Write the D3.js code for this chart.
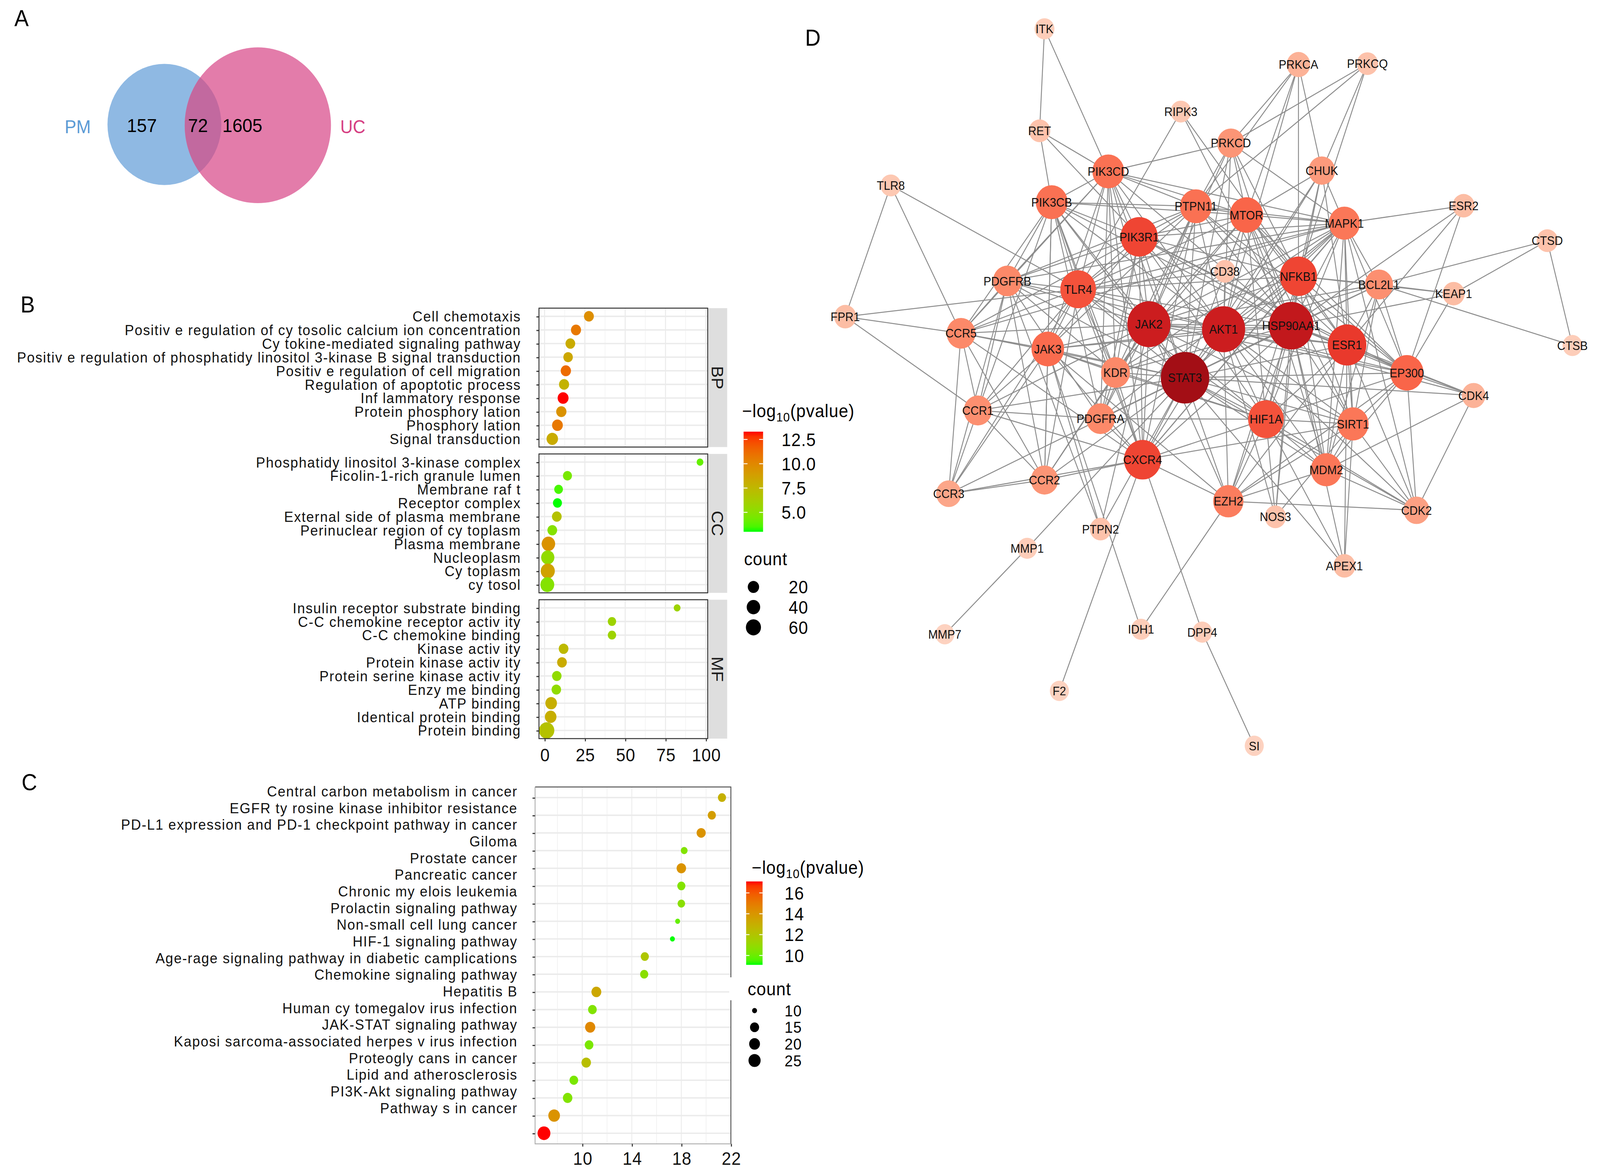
<!DOCTYPE html>
<html>
<head>
<meta charset="utf-8">
<script src="https://cdn.jsdelivr.net/npm/d3@7"></script>
<style>
  html, body { margin: 0; padding: 0; width: 100%; height: 100%; overflow: hidden; background: #fff; }
  #app { width: 100vw; height: 100vh; }
  svg { display: block; width: 100vw; height: 100vh; }
  text { font-family: "Liberation Sans", Arial, Helvetica, sans-serif; }
</style>
</head>
<body>
<div id="app"></div>
<script>
// ---------- A: venn
const vennSets = ['PM', 'UC']
const vennCounts = [157, 72, 1605] // PM only, shared, UC only

// ---------- B: GO enrichment (top to bottom inside each facet)
const goGroups = ['BP', 'CC', 'MF']
const goTerms = [
  ['Cell chemotaxis', 'Positiv e regulation of cy tosolic calcium ion concentration',
   'Cy tokine-mediated signaling pathway',
   'Positiv e regulation of phosphatidy linositol 3-kinase B signal transduction',
   'Positiv e regulation of cell migration', 'Regulation of apoptotic process',
   'Inf lammatory response', 'Protein phosphory lation', 'Phosphory lation', 'Signal transduction'],
  ['Phosphatidy linositol 3-kinase complex', 'Ficolin-1-rich granule lumen', 'Membrane raf t',
   'Receptor complex', 'External side of plasma membrane', 'Perinuclear region of cy toplasm',
   'Plasma membrane', 'Nucleoplasm', 'Cy toplasm', 'cy tosol'],
  ['Insulin receptor substrate binding', 'C-C chemokine receptor activ ity', 'C-C chemokine binding',
   'Kinase activ ity', 'Protein kinase activ ity', 'Protein serine kinase activ ity',
   'Enzy me binding', 'ATP binding', 'Identical protein binding', 'Protein binding'],
]
const goFold = [
  [27.5, 19.5, 16.0, 14.6, 13.2, 12.1, 11.5, 10.4, 8.0, 4.8],
  [96.4, 14.2, 8.7, 8.0, 7.6, 4.8, 2.4, 2.0, 2.0, 1.7],
  [82.2, 41.8, 41.8, 11.8, 10.8, 7.6, 7.3, 4.1, 3.8, 1.3],
]
const goLogP = [
  [9.7, 10.7, 8.2, 8.4, 11.2, 7.8, 13.3, 9.5, 10.7, 8.2],
  [4.0, 4.5, 3.5, 3.0, 6.9, 4.9, 9.5, 5.3, 8.7, 4.9],
  [5.8, 5.8, 5.8, 7.4, 8.2, 5.3, 5.3, 8.0, 8.0, 6.9],
]
const goCount = [
  [11, 12, 10, 9, 13, 12, 17, 13, 16, 21],
  [3, 7, 6, 7, 10, 10, 40, 37, 47, 45],
  [3, 5, 5, 10, 10, 9, 9, 22, 22, 64],
]
const goTicks = [0, 25, 50, 75, 100]
const goColorTicks = [5.0, 7.5, 10.0, 12.5]
const goCountTicks = [20, 40, 60]

// ---------- C: KEGG pathways (top to bottom)
const keggTerms = [
  'Central carbon metabolism in cancer', 'EGFR ty rosine kinase inhibitor resistance',
  'PD-L1 expression and PD-1 checkpoint pathway in cancer', 'Giloma', 'Prostate cancer',
  'Pancreatic cancer', 'Chronic my elois leukemia', 'Prolactin signaling pathway',
  'Non-small cell lung cancer', 'HIF-1 signaling pathway',
  'Age-rage signaling pathway in diabetic camplications', 'Chemokine signaling pathway',
  'Hepatitis B', 'Human cy tomegalov irus infection', 'JAK-STAT signaling pathway',
  'Kaposi sarcoma-associated herpes v irus infection', 'Proteogly cans in cancer',
  'Lipid and atherosclerosis', 'PI3K-Akt signaling pathway', 'Pathway s in cancer',
]
const keggX = [21.28, 20.46, 19.6, 18.23, 18.0, 18.0, 18.0, 17.7, 17.28, 15.05,
  15.0, 11.14, 10.82, 10.64, 10.55, 10.32, 9.32, 8.82, 7.73, 6.91]
const keggLogP = [12.9, 13.7, 14.1, 10.5, 14.1, 10.5, 10.7, 9.9, 9.1, 11.9,
  10.7, 13.3, 10.5, 14.5, 10.3, 12.3, 10.3, 10.5, 14.1, 17.1]
const keggCount = [13, 13, 15, 11, 16, 13, 12, 10, 10, 13,
  13, 17, 14, 18, 14, 16, 14, 16, 23, 28]
const keggTicks = [10, 14, 18, 22]
const keggColorTicks = [10, 12, 14, 16]
const keggCountTicks = [10, 15, 20, 25]

// ---------- D: PPI network (layout coords, x from panel origin)
const netGenes = ['ITK', 'RET', 'RIPK3', 'TLR8', 'PRKCA', 'PRKCQ', 'PRKCD', 'CHUK', 'PIK3CD', 'PIK3CB',
  'PTPN11', 'MTOR', 'MAPK1', 'ESR2', 'CTSD', 'PIK3R1', 'CD38', 'NFKB1', 'BCL2L1', 'PDGFRB',
  'TLR4', 'KEAP1', 'FPR1', 'JAK2', 'AKT1', 'HSP90AA1', 'CCR5', 'CTSB', 'ESR1', 'JAK3',
  'EP300', 'KDR', 'STAT3', 'CDK4', 'CCR1', 'PDGFRA', 'HIF1A', 'SIRT1', 'CXCR4', 'MDM2',
  'CCR2', 'CCR3', 'EZH2', 'CDK2', 'NOS3', 'PTPN2', 'MMP1', 'APEX1', 'IDH1', 'DPP4',
  'MMP7', 'F2', 'SI']
const netX = [238.4, 233.6, 371.3, 88.5, 486, 553.2, 420.1, 508.8, 300.6, 245.4,
  386, 435.3, 530.8, 647, 728.6, 330.7, 414.3, 486, 564.5, 202.2,
  271.2, 637.3, 44.1, 340.2, 413, 478.9, 157, 753.1, 533.4, 241.6,
  591.7, 307.6, 375.4, 656.8, 173.4, 293, 454.3, 539.2, 334, 513.1,
  238.4, 145, 417.6, 601.1, 463.5, 293, 221.5, 530.8, 332.5, 392.2,
  141.2, 252.9, 442.9]
const netY = [26.4, 119.8, 102.2, 169.8, 59.1, 58.3, 131, 156.2, 157, 185.2,
  188.9, 196.9, 204.4, 188.4, 220.4, 216.9, 248.5, 253, 260.5, 257.3,
  264.9, 268.9, 290, 296.9, 301.5, 298.3, 305.2, 316.4, 315.9, 319.6,
  341.4, 341.1, 345.9, 362.2, 375.9, 383.4, 383.9, 388.2, 421, 430.2,
  439.6, 452.1, 459, 467.3, 473.3, 484.5, 502.1, 518.2, 576.3, 578.9,
  580.8, 632.7, 683]
const netDegree = [2, 4, 3, 3, 7, 4, 12, 11, 18, 18,
  18, 20, 17, 5, 4, 25, 4, 25, 13, 14,
  23, 5, 5, 33, 33, 35, 14, 2, 27, 19,
  20, 14, 40, 7, 13, 14, 23, 17, 25, 17,
  12, 9, 16, 10, 4, 4, 2, 5, 2, 2,
  1, 1, 1]
const netLinks = [
  'ITK-RET', 'ITK-PIK3CD', 'RET-PIK3CD', 'RET-PIK3CB', 'RET-PIK3R1',
  'RIPK3-TLR4', 'RIPK3-HSP90AA1', 'RIPK3-NFKB1',
  'TLR8-FPR1', 'TLR8-CCR5', 'TLR8-TLR4', 'FPR1-TLR4', 'FPR1-CCR5', 'FPR1-CCR1',
  'PRKCA-PRKCD', 'PRKCA-MTOR', 'PRKCA-NFKB1', 'PRKCA-CHUK', 'PRKCA-AKT1', 'PRKCA-PTPN11',
  'PRKCQ-PRKCD', 'PRKCQ-CHUK', 'PRKCQ-NFKB1', 'PRKCQ-PTPN11',
  'PRKCD-PTPN11', 'PRKCD-MTOR', 'PRKCD-MAPK1', 'PRKCD-PIK3CD', 'PRKCD-NFKB1', 'PRKCD-AKT1',
  'PRKCD-STAT3', 'PRKCD-JAK2', 'PRKCD-HSP90AA1',
  'CHUK-MTOR', 'CHUK-NFKB1', 'CHUK-MAPK1', 'CHUK-AKT1', 'CHUK-HSP90AA1', 'CHUK-ESR1', 'CHUK-STAT3',
  'ESR2-MAPK1', 'ESR2-HSP90AA1', 'ESR2-ESR1', 'ESR2-EP300',
  'CTSD-BCL2L1', 'CTSD-KEAP1', 'CTSD-CTSB', 'CTSB-BCL2L1',
  'KEAP1-BCL2L1', 'KEAP1-NFKB1', 'KEAP1-HSP90AA1', 'KEAP1-EP300',
  'CDK4-EP300', 'CDK4-ESR1', 'CDK4-MDM2', 'CDK4-CDK2', 'CDK4-HSP90AA1', 'CDK4-AKT1', 'CDK4-STAT3',
  'CDK2-EP300', 'CDK2-MDM2', 'CDK2-SIRT1', 'CDK2-ESR1', 'CDK2-EZH2', 'CDK2-HIF1A', 'CDK2-AKT1', 'CDK2-STAT3',
  'APEX1-HIF1A', 'APEX1-SIRT1', 'APEX1-ESR1', 'APEX1-HSP90AA1', 'APEX1-STAT3',
  'NOS3-AKT1', 'NOS3-HSP90AA1', 'NOS3-HIF1A', 'NOS3-SIRT1',
  'SI-DPP4', 'DPP4-CXCR4', 'IDH1-EZH2', 'IDH1-JAK3', 'F2-CXCR4', 'MMP7-MMP1', 'MMP1-STAT3',
  'PTPN2-JAK3', 'PTPN2-STAT3', 'PTPN2-JAK2', 'PTPN2-PDGFRB',
  'CD38-AKT1', 'CD38-MTOR', 'CD38-JAK2', 'CD38-TLR4',
  'CCR3-CCR5', 'CCR3-CCR1', 'CCR3-CCR2', 'CCR3-CXCR4', 'CCR3-JAK3', 'CCR3-TLR4', 'CCR3-STAT3', 'CCR3-PDGFRB',
  'CCR2-CCR5', 'CCR2-CCR1', 'CCR2-CXCR4', 'CCR2-JAK3', 'CCR2-JAK2', 'CCR2-STAT3', 'CCR2-PIK3CB',
  'CCR2-TLR4', 'CCR2-KDR', 'CCR2-PDGFRB',
  'CCR1-CCR5', 'CCR1-CXCR4', 'CCR1-JAK3', 'CCR1-JAK2', 'CCR1-STAT3', 'CCR1-PIK3CB', 'CCR1-TLR4',
  'CCR1-PDGFRA', 'CCR1-PDGFRB',
  'CCR5-CXCR4', 'CCR5-JAK3', 'CCR5-JAK2', 'CCR5-STAT3', 'CCR5-PIK3CB', 'CCR5-PIK3CD', 'CCR5-TLR4',
  'CCR5-PDGFRB', 'CCR5-PIK3R1', 'CCR5-MAPK1',
  'PDGFRB-PDGFRA', 'PDGFRB-KDR', 'PDGFRB-PIK3CB', 'PDGFRB-PIK3CD', 'PDGFRB-PIK3R1', 'PDGFRB-PTPN11',
  'PDGFRB-STAT3', 'PDGFRB-JAK2', 'PDGFRB-AKT1', 'PDGFRB-MAPK1', 'PDGFRB-TLR4',
  'PDGFRA-KDR', 'PDGFRA-PIK3CB', 'PDGFRA-PIK3CD', 'PDGFRA-PIK3R1', 'PDGFRA-PTPN11', 'PDGFRA-STAT3',
  'PDGFRA-JAK2', 'PDGFRA-HSP90AA1', 'PDGFRA-MAPK1', 'PDGFRA-CXCR4', 'PDGFRA-HIF1A',
  'KDR-PIK3CB', 'KDR-PIK3CD', 'KDR-PIK3R1', 'KDR-PTPN11', 'KDR-STAT3', 'KDR-JAK2', 'KDR-AKT1',
  'KDR-HSP90AA1', 'KDR-MAPK1', 'KDR-CXCR4', 'KDR-HIF1A', 'KDR-MTOR', 'KDR-TLR4', 'KDR-JAK3',
  'JAK3-JAK2', 'JAK3-STAT3', 'JAK3-PIK3CB', 'JAK3-PIK3CD', 'JAK3-PIK3R1', 'JAK3-PTPN11', 'JAK3-TLR4',
  'JAK3-CXCR4', 'JAK3-AKT1', 'JAK3-HSP90AA1', 'JAK3-HIF1A', 'JAK3-EZH2',
  'TLR4-JAK2', 'TLR4-STAT3', 'TLR4-AKT1', 'TLR4-HSP90AA1', 'TLR4-NFKB1', 'TLR4-MTOR', 'TLR4-PIK3R1',
  'TLR4-PIK3CD', 'TLR4-PIK3CB', 'TLR4-PTPN11', 'TLR4-MAPK1', 'TLR4-CXCR4', 'TLR4-HIF1A',
  'PIK3CD-PIK3CB', 'PIK3CD-PIK3R1', 'PIK3CD-PTPN11', 'PIK3CD-MTOR', 'PIK3CD-AKT1', 'PIK3CD-JAK2',
  'PIK3CD-STAT3', 'PIK3CD-CXCR4', 'PIK3CD-HSP90AA1', 'PIK3CD-MAPK1',
  'PIK3CB-PIK3R1', 'PIK3CB-PTPN11', 'PIK3CB-MTOR', 'PIK3CB-AKT1', 'PIK3CB-JAK2', 'PIK3CB-STAT3',
  'PIK3CB-CXCR4', 'PIK3CB-HSP90AA1',
  'PIK3R1-PTPN11', 'PIK3R1-MTOR', 'PIK3R1-AKT1', 'PIK3R1-JAK2', 'PIK3R1-STAT3', 'PIK3R1-CXCR4',
  'PIK3R1-HSP90AA1', 'PIK3R1-NFKB1', 'PIK3R1-ESR1', 'PIK3R1-HIF1A', 'PIK3R1-EP300', 'PIK3R1-MAPK1',
  'PTPN11-MTOR', 'PTPN11-JAK2', 'PTPN11-STAT3', 'PTPN11-AKT1', 'PTPN11-HSP90AA1', 'PTPN11-MAPK1',
  'PTPN11-ESR1', 'PTPN11-EP300', 'PTPN11-CXCR4',
  'MTOR-AKT1', 'MTOR-HSP90AA1', 'MTOR-STAT3', 'MTOR-JAK2', 'MTOR-NFKB1', 'MTOR-MAPK1', 'MTOR-HIF1A',
  'MTOR-SIRT1', 'MTOR-MDM2', 'MTOR-EP300', 'MTOR-ESR1',
  'MAPK1-AKT1', 'MAPK1-HSP90AA1', 'MAPK1-STAT3', 'MAPK1-NFKB1', 'MAPK1-ESR1', 'MAPK1-EP300',
  'MAPK1-SIRT1', 'MAPK1-MDM2', 'MAPK1-HIF1A', 'MAPK1-CDK2', 'MAPK1-BCL2L1', 'MAPK1-CXCR4', 'MAPK1-JAK2',
  'NFKB1-AKT1', 'NFKB1-HSP90AA1', 'NFKB1-STAT3', 'NFKB1-JAK2', 'NFKB1-ESR1', 'NFKB1-EP300',
  'NFKB1-HIF1A', 'NFKB1-SIRT1', 'NFKB1-MDM2', 'NFKB1-EZH2', 'NFKB1-BCL2L1', 'NFKB1-CXCR4', 'NFKB1-NOS3',
  'BCL2L1-STAT3', 'BCL2L1-AKT1', 'BCL2L1-HSP90AA1', 'BCL2L1-ESR1', 'BCL2L1-EP300', 'BCL2L1-SIRT1',
  'BCL2L1-MDM2', 'BCL2L1-JAK2',
  'JAK2-AKT1', 'JAK2-HSP90AA1', 'JAK2-STAT3', 'JAK2-CXCR4', 'JAK2-ESR1', 'JAK2-EP300', 'JAK2-HIF1A',
  'JAK2-SIRT1', 'JAK2-EZH2',
  'AKT1-HSP90AA1', 'AKT1-STAT3', 'AKT1-ESR1', 'AKT1-EP300', 'AKT1-HIF1A', 'AKT1-SIRT1', 'AKT1-MDM2',
  'AKT1-EZH2', 'AKT1-CXCR4',
  'HSP90AA1-STAT3', 'HSP90AA1-ESR1', 'HSP90AA1-EP300', 'HSP90AA1-HIF1A', 'HSP90AA1-SIRT1',
  'HSP90AA1-MDM2', 'HSP90AA1-EZH2', 'HSP90AA1-CXCR4',
  'ESR1-STAT3', 'ESR1-EP300', 'ESR1-HIF1A', 'ESR1-SIRT1', 'ESR1-MDM2', 'ESR1-EZH2',
  'EP300-STAT3', 'EP300-HIF1A', 'EP300-SIRT1', 'EP300-MDM2', 'EP300-EZH2',
  'STAT3-CXCR4', 'STAT3-HIF1A', 'STAT3-SIRT1', 'STAT3-MDM2', 'STAT3-EZH2',
  'HIF1A-SIRT1', 'HIF1A-MDM2', 'HIF1A-EZH2', 'HIF1A-CXCR4',
  'SIRT1-MDM2', 'SIRT1-EZH2', 'MDM2-EZH2', 'CXCR4-EZH2', 'CXCR4-SIRT1',
]

// ------------------------------------------------------------------
const W = 1560
const H = 1074.2
const FONT = '"Liberation Sans", Arial, Helvetica, sans-serif'

// stretch the drawing to the whole window
const svg = d3.select('#app').append('svg')
  .attr('viewBox', `0 0 ${W} ${H}`)
  .attr('preserveAspectRatio', 'none')
const defs = svg.append('defs')
svg.append('rect').attr('width', W).attr('height', H).attr('fill', '#fff')

const panelLetters = [['A', 14, 24], ['B', 20, 286], ['C', 21, 723.5], ['D', 785, 42]]
svg.selectAll('text.letter').data(panelLetters).join('text')
  .attr('class', 'letter')
  .attr('x', (d) => d[1]).attr('y', (d) => d[2])
  .attr('font-size', 21).attr('fill', '#000')
  .text((d) => d[0])

// ---------- A
const drawVenn = () => {
  const g = svg.append('g')
  const circles = [
    {set: vennSets[0], cx: 160.3, cy: 114, r: 55.5, fill: '#8fb9e3'},
    {set: vennSets[1], cx: 251.4, cy: 114.7, r: 71.3, fill: '#e37caa'},
  ]
  g.selectAll('circle.set').data(circles).join('circle')
    .attr('class', 'set')
    .attr('cx', (d) => d.cx).attr('cy', (d) => d.cy).attr('r', (d) => d.r)
    .attr('fill', (d) => d.fill)
  defs.append('clipPath').attr('id', 'clipPM').append('circle')
    .attr('cx', circles[0].cx).attr('cy', circles[0].cy).attr('r', circles[0].r)
  g.append('circle')
    .attr('cx', circles[1].cx).attr('cy', circles[1].cy).attr('r', circles[1].r)
    .attr('clip-path', 'url(#clipPM)')
    .attr('fill', '#c2699f')

  const setLabels = [
    {t: vennSets[0], x: 75.8, col: '#5b9bd5'},
    {t: vennSets[1], x: 344, col: '#d63f83'},
  ]
  g.selectAll('text.setlab').data(setLabels).join('text')
    .attr('class', 'setlab')
    .attr('x', (d) => d.x).attr('y', 122)
    .attr('text-anchor', 'middle').attr('font-size', 17)
    .attr('fill', (d) => d.col)
    .text((d) => d.t)
  const countX = [138.3, 193, 236.3]
  g.selectAll('text.cnt').data(vennCounts).join('text')
    .attr('class', 'cnt')
    .attr('x', (d, i) => countX[i]).attr('y', 121)
    .attr('text-anchor', 'middle').attr('font-size', 17.5).attr('fill', '#000')
    .text((d) => d)
}
drawVenn()

// shared helpers
const expand = (ext, m = 0.05) => {
  const p = (ext[1] - ext[0]) * m
  return [ext[0] - p, ext[1] + p]
}
const greenRed = d3.interpolateLab('#00ff00', '#ff0000')

const styleAxis = (a, size, spacing) => {
  a.attr('font-family', FONT).attr('font-size', size).attr('color', '#333')
  a.select('.domain').remove()
  a.selectAll('text').attr('fill', '#111').attr('letter-spacing', spacing)
}

const colorbar = (id, color, x, w, y0, y1, ticks) => {
  const g = svg.append('g')
  const grad = defs.append('linearGradient').attr('id', id)
    .attr('x1', 0).attr('y1', 1).attr('x2', 0).attr('y2', 0)
  const [d0, d1] = color.domain()
  d3.range(0, 21).forEach((i) => {
    grad.append('stop').attr('offset', i / 20).attr('stop-color', color(d0 + (d1 - d0) * i / 20))
  })
  g.append('rect').attr('x', x).attr('y', y1).attr('width', w).attr('height', y0 - y1)
    .attr('fill', `url(#${id})`)
  const ly = d3.scaleLinear().domain(color.domain()).range([y0, y1])
  ticks.forEach((t) => {
    g.append('line').attr('x1', x).attr('x2', x + w * 0.2).attr('y1', ly(t)).attr('y2', ly(t))
      .attr('stroke', '#fff').attr('stroke-width', 0.8)
    g.append('line').attr('x1', x + w * 0.8).attr('x2', x + w).attr('y1', ly(t)).attr('y2', ly(t))
      .attr('stroke', '#fff').attr('stroke-width', 0.8)
  })
  return {g, ly}
}

const legendTitle = (g, x, y) => {
  const t = g.append('text').attr('x', x).attr('y', y).attr('font-size', 16.5)
    .attr('letter-spacing', 0.4).attr('fill', '#000')
  t.append('tspan').text('\u2212log')
  t.append('tspan').attr('font-size', 11.5).attr('dy', 4).text('10')
  t.append('tspan').attr('dy', -4).text('(pvalue)')
}

// ---------- B
const drawGO = () => {
  const g = svg.append('g')
  const left = 525.5, right = 690, top0 = 282.2, ph = 127.2, gap = 6.3, stripW = 18.5
  const x = d3.scaleLinear().domain(expand(d3.extent(goFold.flat()))).range([left, right])
  const color = d3.scaleSequential(greenRed).domain(d3.extent(goLogP.flat()))
  const cExt = d3.extent(goCount.flat())
  const rs = d3.scaleSqrt().domain([0, cExt[1] - cExt[0]]).range([0, 4.2])
  const radius = (c) => 3.3 + rs(c - cExt[0])
  const minor = goTicks.slice(1).map((t, i) => (t + goTicks[i]) / 2)

  goGroups.forEach((grp, gi) => {
    const top = top0 + gi * (ph + gap)
    const y = d3.scalePoint().domain(goTerms[gi]).range([top, top + ph]).padding(0.6)
    const p = g.append('g')
    p.append('rect').attr('x', left).attr('y', top).attr('width', right - left).attr('height', ph)
      .attr('fill', '#fff')
    p.selectAll('line.minor').data(minor).join('line').attr('class', 'minor')
      .attr('x1', x).attr('x2', x).attr('y1', top).attr('y2', top + ph)
      .attr('stroke', '#f3f3f3').attr('stroke-width', 0.6)
    p.selectAll('line.major').data(goTicks).join('line').attr('class', 'major')
      .attr('x1', x).attr('x2', x).attr('y1', top).attr('y2', top + ph)
      .attr('stroke', '#ebebeb').attr('stroke-width', 1)
    p.selectAll('line.row').data(goTerms[gi]).join('line').attr('class', 'row')
      .attr('x1', left).attr('x2', right).attr('y1', y).attr('y2', y)
      .attr('stroke', '#ebebeb').attr('stroke-width', 1.3)

    const rows = goTerms[gi].map((t, i) => ({t, f: goFold[gi][i], p: goLogP[gi][i], c: goCount[gi][i]}))
    p.selectAll('circle').data(rows).join('circle')
      .attr('cx', (d) => x(d.f)).attr('cy', (d) => y(d.t))
      .attr('r', (d) => radius(d.c))
      .attr('fill', (d) => color(d.p))
    p.append('rect').attr('x', left).attr('y', top).attr('width', right - left).attr('height', ph)
      .attr('fill', 'none').attr('stroke', '#333').attr('stroke-width', 0.9)

    // strip
    p.append('rect').attr('x', right + 0.5).attr('y', top).attr('width', stripW).attr('height', ph)
      .attr('fill', '#dedede')
    p.append('text')
      .attr('transform', `translate(${right + 0.5 + stripW / 2},${top + ph / 2}) rotate(90)`)
      .attr('text-anchor', 'middle').attr('dy', '0.36em')
      .attr('font-size', 16).attr('fill', '#1a1a1a')
      .text(grp)

    p.append('g').attr('transform', `translate(${left},0)`)
      .call(d3.axisLeft(y).tickSize(2.5).tickPadding(15))
      .call((a) => styleAxis(a, 13.5, 0.7))
    if (gi === goGroups.length - 1) {
      p.append('g').attr('transform', `translate(0,${top + ph})`)
        .call(d3.axisBottom(x).tickValues(goTicks).tickSize(2.5).tickPadding(6.6))
        .call((a) => styleAxis(a, 16.5, 0.3))
    }
  })

  // legends
  const cb = colorbar('gradB', color, 725, 19, 487, 395.3, goColorTicks)
  legendTitle(cb.g, 723.6, 382)
  cb.g.selectAll('text.tk').data(goColorTicks).join('text').attr('class', 'tk')
    .attr('x', 762).attr('y', (d) => cb.ly(d)).attr('dy', '0.36em')
    .attr('font-size', 16.5).attr('letter-spacing', 0.4).attr('fill', '#000')
    .text((d) => d.toFixed(1))
  const lg = svg.append('g')
  lg.append('text').attr('x', 725.4).attr('y', 517.5).attr('font-size', 16.5)
    .attr('letter-spacing', 0.4).text('count')
  const ly = d3.scalePoint().domain(goCountTicks).range([537.5, 574.5])
  lg.selectAll('circle').data(goCountTicks).join('circle')
    .attr('cx', 734.6).attr('cy', ly).attr('r', radius).attr('fill', '#000')
  lg.selectAll('text.lab').data(goCountTicks).join('text').attr('class', 'lab')
    .attr('x', 769).attr('y', ly).attr('dy', '0.36em')
    .attr('font-size', 16.5).attr('letter-spacing', 0.4).text((d) => d)
}
drawGO()

// ---------- C
const drawKegg = () => {
  const g = svg.append('g')
  const left = 521.7, right = 712.6, top = 720.7, bottom = 1047.5
  const x = d3.scaleLinear().domain(expand(d3.extent(keggX))).range([left, right])
  const y = d3.scalePoint().domain(keggTerms).range([top, bottom]).padding(0.6)
  const yLab = d3.scalePoint().domain(keggTerms).range([724.5, 1014.5])
  const color = d3.scaleSequential(greenRed).domain(d3.extent(keggLogP))
  const cExt = d3.extent(keggCount)
  const rs = d3.scaleSqrt().domain([0, cExt[1] - cExt[0]]).range([0, 3.85])
  const radius = (c) => 2.4 + rs(c - cExt[0])
  const grid = d3.range(8, 22.1, 2)

  g.append('rect').attr('x', left).attr('y', top).attr('width', right - left).attr('height', bottom - top)
    .attr('fill', '#fff')
  g.selectAll('line.v').data(grid).join('line').attr('class', 'v')
    .attr('x1', x).attr('x2', x).attr('y1', top).attr('y2', bottom)
    .attr('stroke', (d) => (keggTicks.includes(d) ? '#ebebeb' : '#f3f3f3')).attr('stroke-width', 0.8)
  g.selectAll('line.row').data(keggTerms).join('line').attr('class', 'row')
    .attr('x1', left).attr('x2', right).attr('y1', y).attr('y2', y)
    .attr('stroke', '#ebebeb').attr('stroke-width', 1.3)
  const rows = keggTerms.map((t, i) => ({t, f: keggX[i], p: keggLogP[i], c: keggCount[i]}))
  g.selectAll('circle').data(rows).join('circle')
    .attr('cx', (d) => x(d.f)).attr('cy', (d) => y(d.t))
    .attr('r', (d) => radius(d.c)).attr('fill', (d) => color(d.p))
  // border: top/right darker, left/bottom lighter
  g.append('path').attr('d', `M${left},${top}H${right}V${bottom}`)
    .attr('fill', 'none').attr('stroke', '#555').attr('stroke-width', 0.9)
  g.append('path').attr('d', `M${left},${top}V${bottom}H${right}`)
    .attr('fill', 'none').attr('stroke', '#aaa').attr('stroke-width', 0.8)

  g.append('g').attr('transform', `translate(${left},0)`)
    .call(d3.axisLeft(y).tickSize(2.5).tickFormat(''))
    .call((a) => styleAxis(a, 13.5, 0.7))
  g.append('g').attr('transform', `translate(${left},0)`)
    .call(d3.axisLeft(yLab).tickSize(0).tickPadding(17))
    .call((a) => styleAxis(a, 13.5, 0.7))
  g.append('g').attr('transform', `translate(0,${bottom})`)
    .call(d3.axisBottom(x).tickValues(keggTicks).tickSize(2.5).tickPadding(4.8))
    .call((a) => styleAxis(a, 16.5, 0.3))

  const cb = colorbar('gradC', color, 727.5, 16, 883.6, 807.2, keggColorTicks)
  legendTitle(cb.g, 733, 800.2)
  cb.g.selectAll('text.tk').data(keggColorTicks).join('text').attr('class', 'tk')
    .attr('x', 765).attr('y', (d) => cb.ly(d)).attr('dy', '0.36em')
    .attr('font-size', 16.5).attr('letter-spacing', 0.4).text((d) => d)
  const lg = svg.append('g')
  lg.append('rect').attr('x', 711).attr('y', 895).attr('width', 80).attr('height', 21).attr('fill', '#fff')
  lg.append('text').attr('x', 729).attr('y', 911.6).attr('font-size', 16.5)
    .attr('letter-spacing', 0.4).text('count')
  const ly = d3.scalePoint().domain(keggCountTicks).range([925.5, 971.2])
  lg.selectAll('circle').data(keggCountTicks).join('circle')
    .attr('cx', 735.7).attr('cy', ly).attr('r', radius).attr('fill', '#000')
  lg.selectAll('text.lab').data(keggCountTicks).join('text').attr('class', 'lab')
    .attr('x', 765).attr('y', ly).attr('dy', '0.36em')
    .attr('font-size', 14.5).attr('letter-spacing', 0.4).text((d) => d)
}
drawKegg()

// ---------- D
const drawNetwork = () => {
  const g = svg.append('g')
  const nx = d3.scaleLinear().domain([0, 780]).range([780, 1560])
  const ny = d3.scaleLinear().domain([0, 1074.2]).range([0, 1074.2])
  const degExt = d3.extent(netDegree)
  const r = d3.scaleLinear().domain(degExt).range([9.3, 23.6])
  const col = d3.scaleSequential((t) => d3.interpolateReds(0.17 + 0.7 * t)).domain(degExt)
  const nodes = netGenes.map((id, i) => ({id, x: nx(netX[i]), y: ny(netY[i]), deg: netDegree[i]}))
  const byId = new Map(nodes.map((d) => [d.id, d]))
  const seen = new Set()
  const links = []
  netLinks.forEach((l) => {
    const [a, b] = l.split('-')
    const key = [a, b].sort().join('|')
    if (seen.has(key) || !byId.has(a) || !byId.has(b)) return
    seen.add(key)
    links.push({s: byId.get(a), t: byId.get(b)})
  })
  g.append('g').selectAll('line').data(links).join('line')
    .attr('x1', (d) => d.s.x).attr('y1', (d) => d.s.y)
    .attr('x2', (d) => d.t.x).attr('y2', (d) => d.t.y)
    .attr('stroke', '#8c8c8c').attr('stroke-width', 0.9)
  const ng = g.append('g').selectAll('g').data(nodes).join('g')
    .attr('transform', (d) => `translate(${d.x},${d.y})`)
  ng.append('circle').attr('r', (d) => r(d.deg)).attr('fill', (d) => col(d.deg))
  ng.append('text').attr('text-anchor', 'middle').attr('dy', '0.36em')
    .attr('font-size', 11.2).attr('fill', '#111')
    .text((d) => d.id)
}
drawNetwork()
</script>
</body>
</html>
